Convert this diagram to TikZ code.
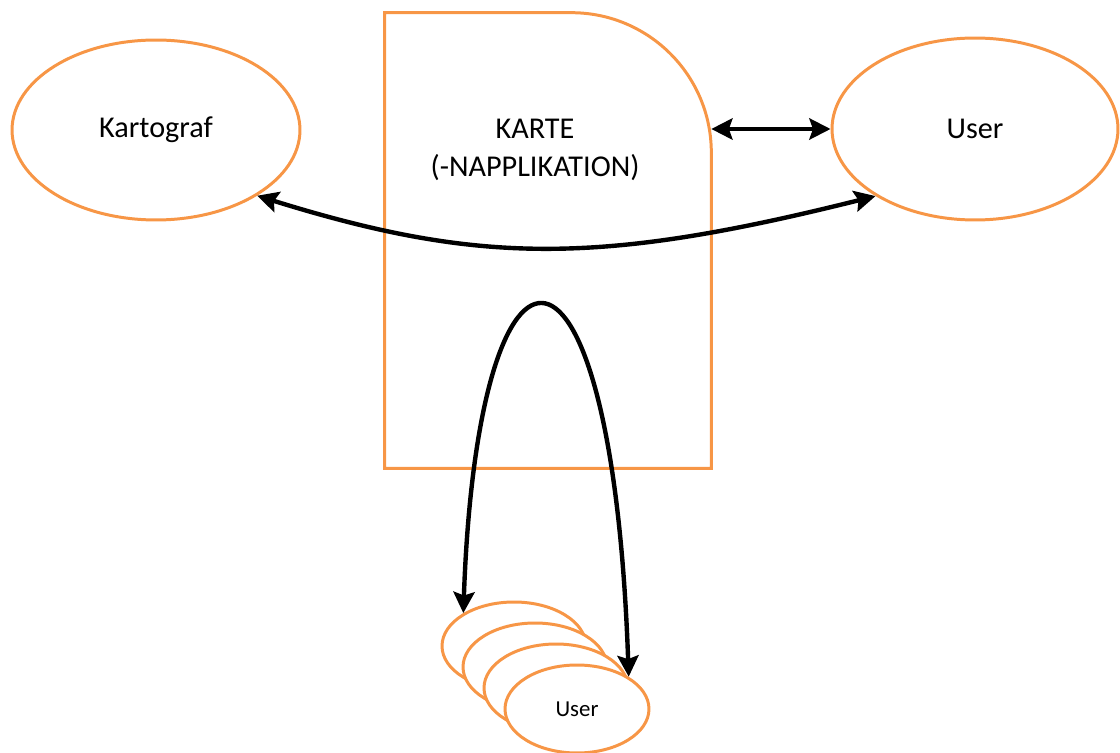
\documentclass[tikz,border=0pt]{standalone}
\usepackage{fontspec}
\setmainfont{Carlito}
\usetikzlibrary{shapes.geometric,arrows.meta}
\definecolor{orgline}{HTML}{F79646}

\begin{document}
\begin{tikzpicture}[x=0.02cm, y=-0.02cm,
    font=\fontsize{17.2}{22}\selectfont,
    rolle/.style={ellipse, draw=orgline, line width=1.7pt, fill=white, inner sep=0pt},
    kleinrolle/.style={rolle, minimum width=2.88cm, minimum height=1.76cm, font=\fontsize{13}{15}\selectfont},
    pfeil/.style={{Stealth[length=12pt,width=12pt,inset=2pt]}-{Stealth[length=12pt,width=12pt,inset=2pt]}, line width=2.5pt}]
    \useasboundingbox (0,0) rectangle (1120,753);

    % Karte block
    \node[minimum width=6.52cm, minimum height=9.1cm, inner sep=0pt] (karte) at (548,240.5) {};
    \draw[orgline, line width=1.7pt] (karte.south west) |- ([xshift=-2.8cm]karte.north east)
        arc[start angle=90, end angle=0, radius=2.8cm] -- (karte.south east) -- cycle;
    \node[align=center] (kartetext) at (535,150) {KARTE\\(-NAPPLIKATION)};

    % Kartograf and User
    \node[rolle, minimum width=5.76cm, minimum height=3.6cm] (karto) at (156,130) {Kartograf};
    \node[rolle, minimum width=5.72cm, minimum height=3.64cm] (user) at (975,129) {User};

    % many users
    \node[kleinrolle] (u1) at (514,646) {};
    \node[kleinrolle] (u2) at (535,667) {};
    \node[kleinrolle] (u3) at (556,688) {};
    \node[kleinrolle] (u4) at (577,709) {User};

    % Arrows
    \draw[pfeil] (karte.east |- user.west) -- (user.west);
    \draw[pfeil] (karto.-33) .. controls (480,265) and (600,265) .. (user.-146);
    \draw[pfeil] (u1.147) .. controls (478,195) and (612,195) .. (u4.32);
\end{tikzpicture}
\end{document}
